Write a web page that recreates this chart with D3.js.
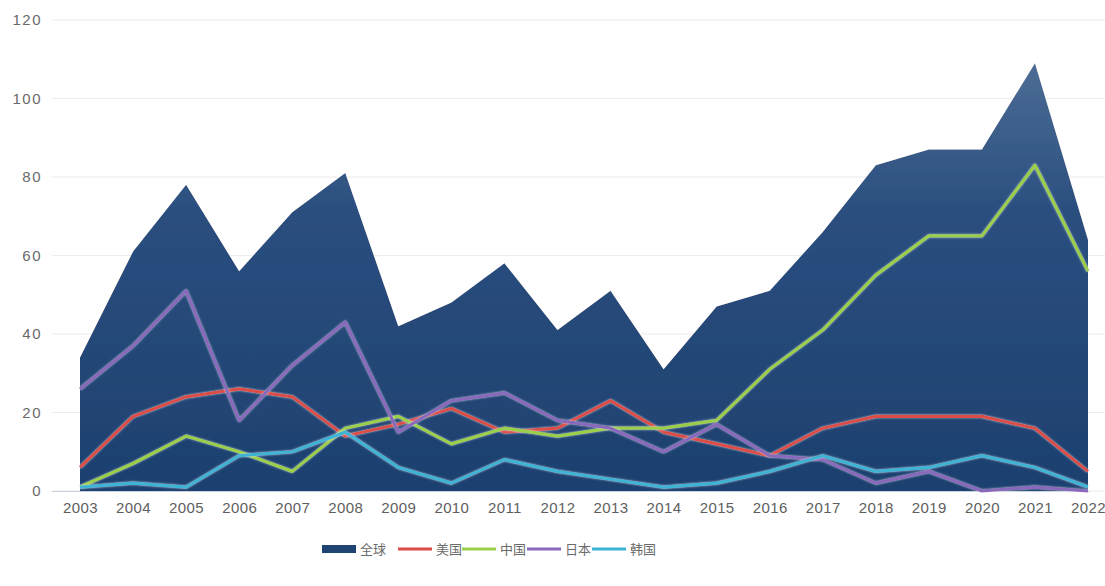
<!DOCTYPE html>
<html>
<head>
<meta charset="utf-8">
<script src="https://cdn.jsdelivr.net/npm/d3@7"></script>
<style>
  html, body { margin: 0; padding: 0; background: #ffffff; }
  svg { display: block; font-family: "Open Sans", "Noto Sans CJK SC", sans-serif; }
</style>
</head>
<body>
<svg id="chart" width="1105" height="586"></svg>
<script>
// Years on the x axis
const years = ["2003","2004","2005","2006","2007","2008","2009","2010","2011","2012",
               "2013","2014","2015","2016","2017","2018","2019","2020","2021","2022"];

// Global total (area)
const globalVals = [34, 61, 78, 56, 71, 81, 42, 48, 58, 41, 51, 31, 47, 51, 66, 83, 87, 87, 109, 64];
// Countries (lines)
const usVals    = [6, 19, 24, 26, 24, 14, 17, 21, 15, 16, 23, 15, 12, 9, 16, 19, 19, 19, 16, 5];
const chinaVals = [1, 7, 14, 10, 5, 16, 19, 12, 16, 14, 16, 16, 18, 31, 41, 55, 65, 65, 83, 56];
const japanVals = [26, 37, 51, 18, 32, 43, 15, 23, 25, 18, 16, 10, 17, 9, 8, 2, 5, 0, 1, 0];
const koreaVals = [1, 2, 1, 9, 10, 15, 6, 2, 8, 5, 3, 1, 2, 5, 9, 5, 6, 9, 6, 1];

const yTicks = [0, 20, 40, 60, 80, 100, 120];

const lineSeries = [
  { name: "美国", values: usVals,    color: "#dd4d47" },
  { name: "中国", values: chinaVals, color: "#9ccf4a" },
  { name: "日本", values: japanVals, color: "#8a68bb" },
  { name: "韩国", values: koreaVals, color: "#3cb4d6" }
];

const svg = d3.select("#chart");

const x = d3.scalePoint().domain(years).range([80, 1088]);
const y = d3.scaleLinear().domain([0, 120]).range([491, 20]);

// Gradient for the global area
const defs = svg.append("defs");
const grad = defs.append("linearGradient")
  .attr("id", "areaGrad").attr("gradientUnits", "userSpaceOnUse")
  .attr("x1", 0).attr("x2", 0).attr("y1", y(110)).attr("y2", y(0));
grad.append("stop").attr("offset", "0%").attr("stop-color", "#4d6d95");
grad.append("stop").attr("offset", "35%").attr("stop-color", "#2a4f7f");
grad.append("stop").attr("offset", "100%").attr("stop-color", "#1d406f");

const glow = defs.append("filter").attr("id", "glow")
  .attr("x", "-5%").attr("y", "-5%").attr("width", "110%").attr("height", "110%");
glow.append("feDropShadow").attr("dx", 0).attr("dy", 0).attr("stdDeviation", 1.2)
  .attr("flood-color", "#ffffff").attr("flood-opacity", 0.6);

// Horizontal gridlines and y tick labels
const grid = svg.append("g");
grid.selectAll("line").data(yTicks).join("line")
  .attr("x1", 52).attr("x2", 1105)
  .attr("y1", d => y(d)).attr("y2", d => y(d))
  .attr("stroke", "#ececec").attr("stroke-width", 1.2);

const yAxis = d3.axisLeft(y).tickValues(yTicks).tickSize(0).tickPadding(0);
svg.append("g").attr("transform", "translate(42,0)").call(yAxis)
  .call(g => g.select(".domain").remove())
  .call(g => g.selectAll("text")
    .attr("fill", "#6a6a6a").attr("font-size", 15).attr("letter-spacing", 1.5));

// Global area
const area = d3.area()
  .x((d, i) => x(years[i]))
  .y0(y(0))
  .y1(d => y(d));
svg.append("path")
  .datum(globalVals)
  .attr("d", area)
  .attr("fill", "url(#areaGrad)")
  .attr("filter", "url(#glow)");

// Baseline
svg.append("line")
  .attr("x1", 52).attr("x2", 1090).attr("y1", y(0) + 0.5).attr("y2", y(0) + 0.5)
  .attr("stroke", "#c9d3df").attr("stroke-width", 1.2);

// Country lines
const line = d3.line()
  .x((d, i) => x(years[i]))
  .y(d => y(d));
svg.append("g").selectAll("path").data(lineSeries).join("path")
  .attr("d", s => line(s.values))
  .attr("fill", "none")
  .attr("stroke", s => s.color)
  .attr("stroke-width", 3.2)
  .attr("stroke-linejoin", "round")
  .attr("filter", "url(#glow)");

// X axis labels
const xAxis = d3.axisBottom(x).tickSize(0).tickPadding(0);
svg.append("g").attr("transform", "translate(0,502)").call(xAxis)
  .call(g => g.select(".domain").remove())
  .call(g => g.selectAll("text")
    .attr("fill", "#5e5e5e").attr("font-size", 15).attr("letter-spacing", 0.4));

// Legend
const legend = svg.append("g").attr("transform", "translate(0,549)");
const legendItems = [
  { name: "全球", type: "area", color: "#1f4372" },
  ...lineSeries.map(s => ({ name: s.name, type: "line", color: s.color }))
];
const legendX = [322, 398, 462, 527, 592];
legendItems.forEach((it, i) => {
  const g = legend.append("g").attr("transform", `translate(${legendX[i]},0)`);
  if (it.type === "area") {
    g.append("rect").attr("x", 0).attr("y", -4).attr("width", 34).attr("height", 8)
      .attr("fill", it.color);
  } else {
    g.append("line").attr("x1", 0).attr("x2", 34).attr("y1", 0).attr("y2", 0)
      .attr("stroke", it.color).attr("stroke-width", 3);
  }
  g.append("text").attr("x", 38).attr("y", 0).attr("dy", "0.35em")
    .attr("fill", "#6a6a6a").attr("font-size", 13)
    .attr("font-family", "'Noto Sans CJK SC', sans-serif")
    .text(it.name);
});
</script>
</body>
</html>
